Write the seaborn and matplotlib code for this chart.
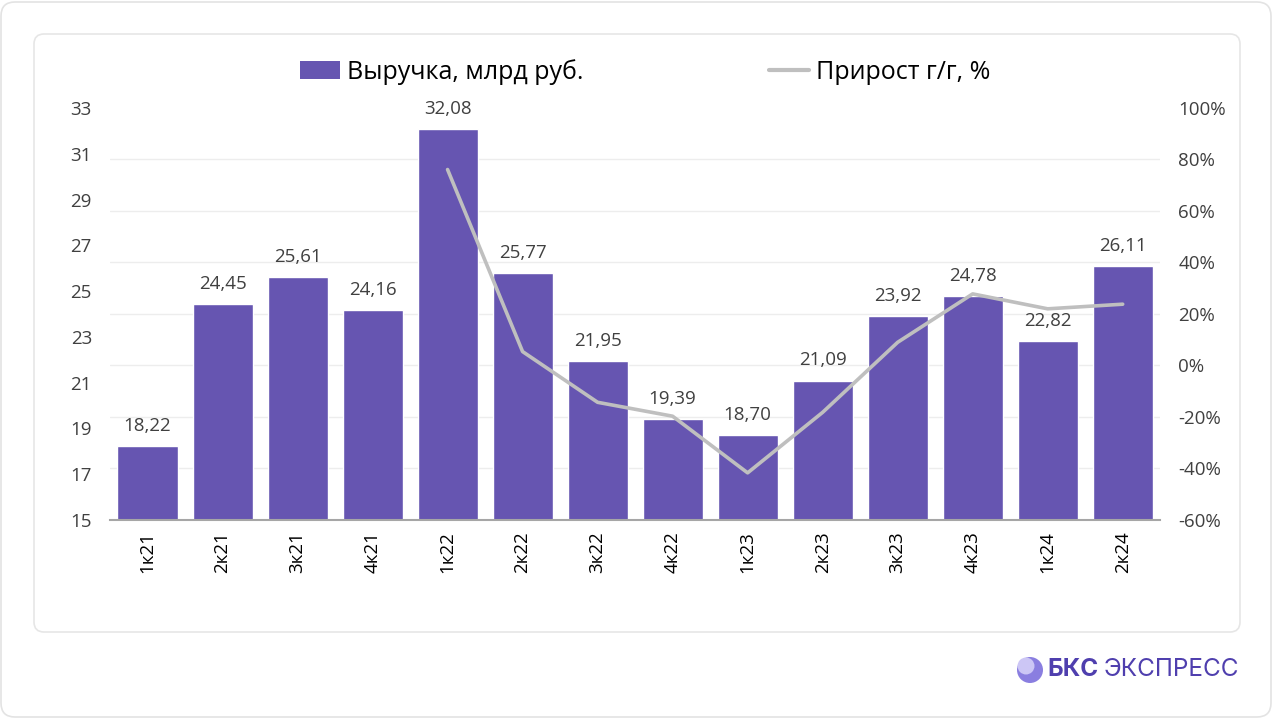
"""
Выручка по кварталам и прирост г/г
"""

import numpy as np
import pandas as pd
import matplotlib.pyplot as plt
import seaborn as sns
from matplotlib.patches import FancyBboxPatch, Circle
from matplotlib.lines import Line2D
from matplotlib.patches import Patch


# =============================================================================
# DATA
# =============================================================================

QUARTERS = ['1к21', '2к21', '3к21', '4к21', '1к22', '2к22', '3к22',
            '4к22', '1к23', '2к23', '3к23', '4к23', '1к24', '2к24']

REVENUE = [18.22, 24.45, 25.61, 24.16, 32.08, 25.77, 21.95,
           19.39, 18.70, 21.09, 23.92, 24.78, 22.82, 26.11]

# прирост г/г, % (нет данных за 2021)
GROWTH = [np.nan, np.nan, np.nan, np.nan, 76.1, 5.4, -14.3,
          -19.7, -41.7, -18.2, 9.0, 27.8, 22.0, 23.8]

BAR_COLOR = '#6655B1'
LINE_COLOR = '#BFBFBF'
TEXT_COLOR = '#404040'


# =============================================================================
# VISUALIZATION
# =============================================================================

sns.set_style('white')
plt.rcParams['font.family'] = ['Open Sans', 'DejaVu Sans']

df = pd.DataFrame({'quarter': QUARTERS, 'revenue': REVENUE, 'growth': GROWTH})
df['pos'] = np.arange(len(df))

fig = plt.figure(figsize=(12.73, 7.18), dpi=100, facecolor='white')

# background cards
fig.patches.append(FancyBboxPatch((1, 1), 1270, 715, boxstyle='round,pad=0,rounding_size=14',
                                  transform=None, facecolor='white', edgecolor='#E3E3E3',
                                  linewidth=1.2, zorder=-3))
fig.patches.append(FancyBboxPatch((34, 86), 1206, 598, boxstyle='round,pad=0,rounding_size=10',
                                  transform=None, facecolor='white', edgecolor='#E6E6E6',
                                  linewidth=1.2, zorder=-2))

ax = fig.add_axes([0.0864, 0.2758, 0.825, 0.5738])
ax.set_facecolor('none')

sns.barplot(data=df, x='quarter', y='revenue', color=BAR_COLOR, saturation=1,
            width=0.8, ax=ax, zorder=2)

ax.set_ylim(15, 33)
ax.set_yticks(np.arange(15, 34, 2))
ax.set_xlim(-0.5, len(QUARTERS) - 0.5)
# grid lines follow the right-hand axis ticks
ax.set_yticks(np.linspace(15, 33, 9), minor=True)
ax.grid(which='minor', axis='y', color='#EDEDED', linewidth=1.0, zorder=0)
ax.grid(which='major', visible=False)
ax.set_axisbelow(True)

labels = [f'{v:.2f}'.replace('.', ',') for v in REVENUE]
ax.bar_label(ax.containers[0], labels=labels, padding=8, fontsize=13.5, color=TEXT_COLOR)

ax.set_xlabel('')
ax.set_ylabel('')
ax.tick_params(axis='y', which='both', length=0, pad=13, labelsize=13.5, labelcolor=TEXT_COLOR)
ax.tick_params(axis='x', length=0, pad=8, labelsize=13.5, labelcolor='black')
plt.setp(ax.get_xticklabels(), rotation=90)

for side in ['top', 'right', 'left']:
    ax.spines[side].set_visible(False)
ax.spines['bottom'].set_color('#A6A6A6')
ax.spines['bottom'].set_linewidth(1.5)

# growth line on secondary axis
ax2 = ax.twinx()
sns.lineplot(data=df, x='pos', y='growth', color=LINE_COLOR, linewidth=2.6,
             ax=ax2, solid_capstyle='round')
ax2.set_ylim(-60, 100)
ax2.set_yticks(np.arange(-60, 101, 20))
ax2.set_yticklabels([f'{t}%' for t in range(-60, 101, 20)])
ax2.set_ylabel('')
ax2.tick_params(axis='y', length=0, pad=13, labelsize=13.5, labelcolor=TEXT_COLOR)
for side in ['top', 'right', 'left', 'bottom']:
    ax2.spines[side].set_visible(False)
ax2.grid(False)

# legend
handles = [Patch(facecolor=BAR_COLOR, edgecolor='none'),
           Line2D([0], [0], color=LINE_COLOR, linewidth=3)]
fig.legend(handles, ['Выручка, млрд руб.', 'Прирост г/г, %'], loc='center',
           bbox_to_anchor=(0.507, 0.9), ncol=2, frameon=False, fontsize=18,
           handlelength=1.6, handleheight=0.75, handletextpad=0.3, columnspacing=7.4,
           labelcolor='black')

# logo
fig.patches.append(Circle((1030, 48), 13, transform=None, facecolor='#8A7EE0',
                          edgecolor='none', zorder=5))
fig.patches.append(Circle((1026, 52), 8.5, transform=None, facecolor='#CCC6F5',
                          edgecolor='none', zorder=6))
fig.text(1047 / 1273, 1 - 670 / 718, 'БКС', fontsize=17.5, fontweight='bold',
         color='#4F3FAE', va='center', ha='left', family=['Inter', 'DejaVu Sans'])
fig.text(1104 / 1273, 1 - 670 / 718, 'ЭКСПРЕСС', fontsize=17.5,
         color='#4F3FAE', va='center', ha='left', family=['Inter', 'DejaVu Sans'])

plt.savefig('out.png', dpi=100, facecolor='white')
plt.close()
